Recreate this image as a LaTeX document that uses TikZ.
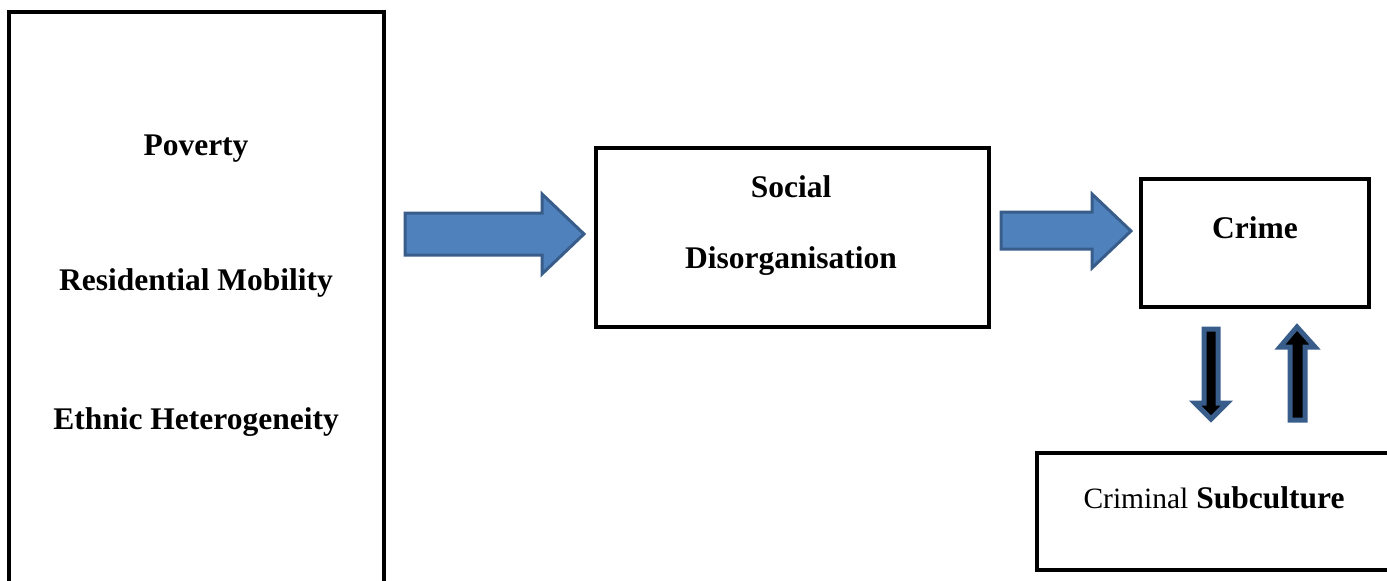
\documentclass[tikz,border=0pt]{standalone}
\usepackage{fontspec}
\setmainfont{Liberation Serif}
\begin{document}
\begin{tikzpicture}[x=1pt,y=-1pt,
  box/.style={draw=black,line width=4pt,fill=white},
  lbl/.style={font=\fontsize{31.5}{36}\selectfont\bfseries,inner sep=0pt,anchor=base},
  blockarrow/.style={fill=arrowfill,draw=arrowedge,line width=3pt,line join=miter},
  smallarrow/.style={fill=black,draw=arrowedge,line width=5pt,line join=miter}]
\definecolor{arrowfill}{HTML}{4F81BD}
\definecolor{arrowedge}{HTML}{385D8A}
\useasboundingbox (0,0) rectangle (1387,581);
\clip (0,0) rectangle (1387,581);
% boxes
\draw[box] (9,12) rectangle (384,600);
\draw[box] (596,148) rectangle (989,327);
\draw[box] (1141,179) rectangle (1369,307);
\draw[box] (1037,453) rectangle (1400,570);
% labels
\node[lbl] (pov) at (196,155) {Poverty};
\node[lbl] (res) at (196,290) {Residential Mobility};
\node[lbl] (eth) at (196,429) {Ethnic Heterogeneity};
\node[lbl] (soc) at (791,197) {Social};
\node[lbl] (dis) at (791,268) {Disorganisation};
\node[lbl] (crime) at (1255,238) {Crime};
\node[lbl] (sub) at (1214,508) {{\mdseries\fontsize{29.5}{34}\selectfont Criminal} Subculture};
% block arrows
\draw[blockarrow] (405,213) -- (542,213) -- (542,194) -- (584,234) -- (542,274) -- (542,255) -- (405,255) -- cycle;
\draw[blockarrow] (1001,212) -- (1092,212) -- (1092,194) -- (1131,231) -- (1092,268) -- (1092,249) -- (1001,249) -- cycle;
% small arrows
\draw[smallarrow] (1204,329) -- (1218,329) -- (1218,403) -- (1227,403) -- (1211,419) -- (1195,403) -- (1204,403) -- cycle;
\draw[smallarrow] (1290,420) -- (1305,420) -- (1305,347) -- (1315,347) -- (1297,327) -- (1280,347) -- (1290,347) -- cycle;
\end{tikzpicture}
\end{document}
